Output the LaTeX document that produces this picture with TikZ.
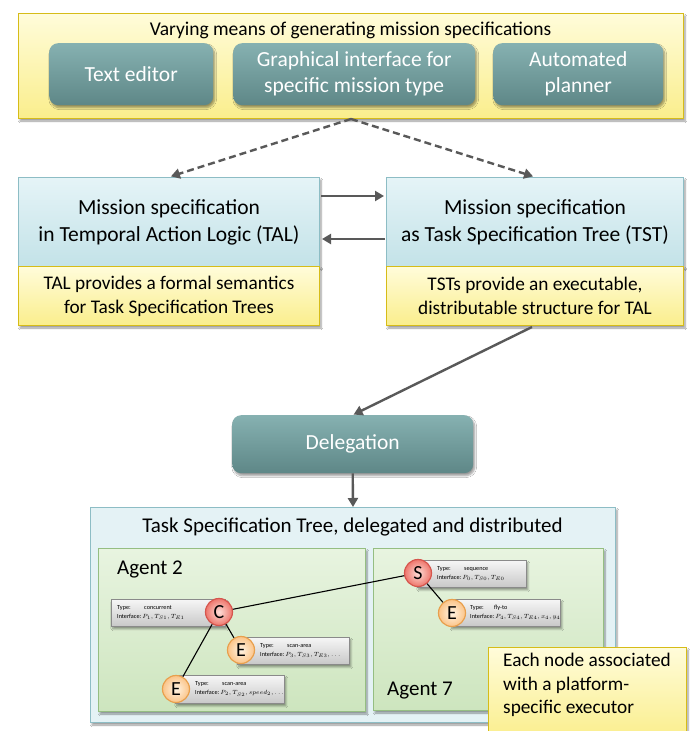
\documentclass[tikz,border=0pt]{standalone}
\usepackage{fontspec}
\setmainfont{Carlito}
\usetikzlibrary{shadows,shadows.blur,arrows.meta,calc}

\newcommand\myfs[2]{\fontsize{#1}{#2}\selectfont}

\definecolor{yBorder}{RGB}{214,188,24}
\definecolor{yTop}{RGB}{255,252,218}
\definecolor{yBot}{RGB}{250,238,140}
\definecolor{tealTop}{RGB}{134,177,177}
\definecolor{tealBot}{RGB}{94,135,135}
\definecolor{bTop}{RGB}{229,244,247}
\definecolor{bBot}{RGB}{195,226,232}
\definecolor{bBorder}{RGB}{141,189,197}
\definecolor{oFill}{RGB}{228,242,245}
\definecolor{gTop}{RGB}{232,244,224}
\definecolor{gBot}{RGB}{205,229,190}
\definecolor{gBorder}{RGB}{149,190,130}
\definecolor{iTop}{RGB}{246,246,246}
\definecolor{iBot}{RGB}{200,200,200}
\definecolor{iBorder}{RGB}{138,138,138}
\definecolor{arrowGray}{RGB}{89,89,89}
\definecolor{rIn}{RGB}{253,222,216}
\definecolor{rOut}{RGB}{238,118,108}
\definecolor{rBorder}{RGB}{214,86,78}
\definecolor{oIn}{RGB}{255,244,228}
\definecolor{oOut}{RGB}{251,196,136}
\definecolor{oBorder}{RGB}{232,160,78}

\tikzset{
  softshadow/.style={blur shadow={shadow blur steps=6, shadow xshift=1.5pt, shadow yshift=-2.5pt, shadow opacity=40}},
  box/.style={rectangle, anchor=north west, inner sep=2pt, align=center},
  ybox/.style={box, draw=yBorder, line width=1pt, top color=yTop, bottom color=yBot, softshadow},
  btn/.style={box, rounded corners=9pt, top color=tealTop, bottom color=tealBot, text=white, softshadow, font=\myfs{21.5}{26}},
  bbox/.style={box, draw=bBorder, line width=1pt, top color=bTop, bottom color=bBot, softshadow, font=\myfs{21.5}{27}},
  nbox/.style={box, draw=yBorder, line width=1pt, top color=yTop, bottom color=yBot, softshadow, font=\myfs{19.3}{24}},
  obox/.style={box, draw=bBorder, line width=1pt, fill=oFill, softshadow},
  gbox/.style={box, draw=gBorder, line width=1pt, top color=gTop, bottom color=gBot, softshadow},
  ibox/.style={box, draw=iBorder, line width=0.8pt, top color=iTop, bottom color=iBot, softshadow},
  itext/.style={anchor=west, align=left, inner sep=0pt, font=\myfs{6.2}{9}},
  rnode/.style={circle, minimum size=27pt, inner sep=0pt, draw=rBorder, line width=1.2pt, inner color=rIn, outer color=rOut, font=\myfs{20}{22}},
  onode/.style={circle, minimum size=27pt, inner sep=0pt, draw=oBorder, line width=1.2pt, inner color=oIn, outer color=oOut, font=\myfs{20}{22}},
  arr/.style={draw=arrowGray, line width=2.4pt, -{Triangle[length=9pt,width=10pt]}},
  darr/.style={arr, dash pattern=on 7pt off 4pt},
  tedge/.style={draw=black, line width=1.1pt},
}

\begin{document}
\begin{tikzpicture}[x=1pt, y=-1pt]
\useasboundingbox (0,0) rectangle (691,731);
\fill[white] (0,0) rectangle (691,731);

% --- ways of producing a mission specification
\node[ybox, minimum width=665pt, minimum height=105pt] (gen) at (18,13) {};
\node[font=\myfs{19.5}{22}] (genTitle) at (350.5,30) {Varying means of generating mission specifications};
\node[btn, minimum width=164pt, minimum height=62pt] (txt) at (49,43) {Text editor};
\node[btn, minimum width=242pt, minimum height=62pt] (gui) at (233,43) {Graphical interface for\\specific mission type};
\node[btn, minimum width=170pt, minimum height=62pt] (plan) at (493,43) {Automated\\planner};

% --- the two representations
\node[bbox, minimum width=301pt, minimum height=89pt] (talTop) at (18,177) {Mission specification\\in Temporal Action Logic (TAL)};
\node[nbox, minimum width=301pt, minimum height=59pt] (talBot) at (18,266) {TAL provides a formal semantics\\for Task Specification Trees};
\node[bbox, minimum width=297pt, minimum height=89pt] (tstTop) at (386,177) {Mission specification\\as Task Specification Tree (TST)};
\node[nbox, minimum width=297pt, minimum height=59pt] (tstBot) at (386,266) {TSTs provide an executable,\\distributable structure for TAL};

\draw[darr, shorten >=2pt] (gen.south) -- (talTop.north);
\draw[darr, shorten >=2pt] (gen.south) -- (tstTop.north);
\draw[arr] ($(talTop.north east)+(1,19)$) -- ($(tstTop.north west)+(-2,19)$);
\draw[arr] ($(tstTop.north west)+(-1,62)$) -- ($(talTop.north east)+(2,62)$);

% --- delegation
\node[btn, minimum width=241pt, minimum height=58pt] (deleg) at (232,415) {Delegation};
\draw[arr, shorten >=1pt] ($(tstBot.south)+(-3,1)$) -- (deleg.north);

% --- delegated tree
\node[obox, minimum width=525pt, minimum height=215pt] (tree) at (90,507) {};
\draw[arr] (deleg.south) -- (tree.north);
\node[font=\myfs{21}{24}] (treeTitle) at (352.5,527) {Task Specification Tree, delegated and distributed};
\node[gbox, minimum width=267pt, minimum height=163pt] (agentA) at (98,548) {};
\node[gbox, minimum width=230pt, minimum height=162pt] (agentB) at (373,548) {};
\node[anchor=west, inner sep=0pt, font=\myfs{21}{24}] (agentAname) at (117,569) {Agent 2};
\node[anchor=west, inner sep=0pt, font=\myfs{21}{24}] (agentBname) at (387,691) {Agent 7};

% node descriptions
\node[ibox, minimum width=114pt, minimum height=27pt] (cInfo) at (111,599) {};
\node[itext] (cText) at ($(cInfo.west)+(6,-0.5)$) {\makebox[27pt][l]{Type:}concurrent\\Interface:\,$P_1, T_{S1}, T_{E1}$};
\node[ibox, minimum width=112pt, minimum height=27pt] (e3Info) at (237,637) {};
\node[itext] (e3Text) at ($(e3Info.west)+(23,-0.5)$) {\makebox[27pt][l]{Type:}scan-area\\Interface:\,$P_3, T_{S3}, T_{E3}, \ldots$};
\node[ibox, minimum width=109pt, minimum height=28pt] (e2Info) at (175,675) {};
\node[itext] (e2Text) at ($(e2Info.west)+(20,-0.5)$) {\makebox[27pt][l]{Type:}scan-area\\Interface:\,$P_2, T_{S2}, speed_2, \ldots$};
\node[ibox, minimum width=109pt, minimum height=27pt] (sInfo) at (417,560) {};
\node[itext] (sText) at ($(sInfo.west)+(20,-0.5)$) {\makebox[27pt][l]{Type:}sequence\\Interface:\,$P_0, T_{S0}, T_{E0}$};
\node[ibox, minimum width=110pt, minimum height=27pt] (e4Info) at (450,599) {};
\node[itext] (e4Text) at ($(e4Info.west)+(20,-0.5)$) {\makebox[24pt][l]{Type:}fly-to\\Interface:\,$P_4, T_{S4}, T_{E4}, x_4, y_4$};

% tree nodes
\node[rnode] (C) at (219,612) {C};
\node[onode] (E3) at (241,650) {E};
\node[onode] (E2) at (176,689) {E};
\node[rnode] (S) at (418,573) {S};
\node[onode] (E4) at (452,613) {E};
\draw[tedge] (S) -- (C);
\draw[tedge] (C) -- (E3);
\draw[tedge] (C) -- (E2);
\draw[tedge] (S) -- (E4);

% note
\node[ybox, minimum width=198pt, minimum height=92pt] (note) at (488,647) {};
\node[anchor=north west, align=left, inner sep=0pt, font=\myfs{19.3}{23.5}] (noteText) at (503,653) {Each node associated\\with a platform-\\specific executor};
\end{tikzpicture}
\end{document}
